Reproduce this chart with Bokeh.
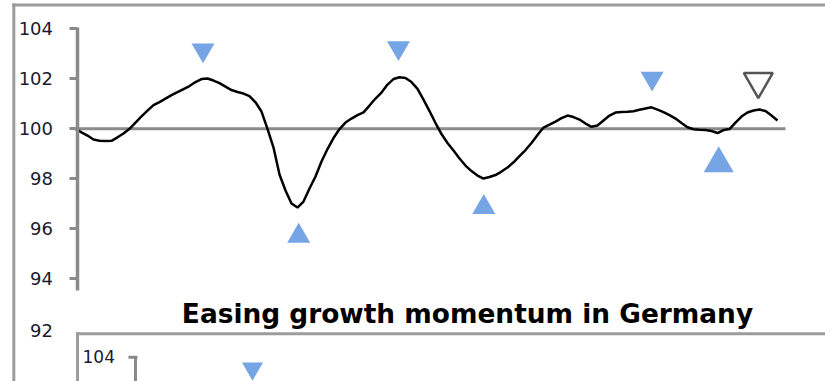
from bokeh.plotting import figure
from bokeh.models import FixedTicker, BoxAnnotation, Label
from bokeh.embed import file_html
from bokeh.resources import INLINE

# ---- data ----
values = [
    100.00, 99.86, 99.73, 99.57, 99.52, 99.51, 99.52, 99.66, 99.81, 100.00,
    100.25, 100.50, 100.73, 100.95, 101.07, 101.21, 101.35, 101.47, 101.59, 101.71,
    101.87, 101.99, 102.01, 101.93, 101.83, 101.69, 101.55, 101.47, 101.41, 101.31,
    101.06, 100.69, 100.00, 99.25, 98.17, 97.53, 97.01, 96.85, 97.09, 97.61,
    98.09, 98.69, 99.19, 99.63, 99.99, 100.25, 100.41, 100.55, 100.66, 100.93,
    101.21, 101.45, 101.77, 101.99, 102.06, 102.03, 101.87, 101.60, 101.17, 100.71,
    100.23, 99.79, 99.43, 99.13, 98.81, 98.53, 98.31, 98.13, 98.01, 98.07,
    98.15, 98.29, 98.45, 98.66, 98.91, 99.15, 99.43, 99.75, 100.05, 100.17,
    100.29, 100.43, 100.53, 100.47, 100.37, 100.21, 100.08, 100.13, 100.33, 100.53,
    100.65, 100.67, 100.68, 100.70, 100.76, 100.81, 100.86, 100.77, 100.67, 100.55,
    100.41, 100.23, 100.06, 99.98, 99.96, 99.95, 99.91, 99.83, 99.95, 99.99,
    100.25, 100.49, 100.65, 100.73, 100.77, 100.71, 100.53, 100.33,
]
months = list(range(len(values)))

peak_x = [21.25, 53.83, 96.1]
peak_y = [103.15, 103.24, 102.02]
trough_x = [37.2, 68.05, 107.2]
trough_y = [95.71, 96.86, 98.61]
trough_size = [23, 23, 30]
open_peak_x = [113.8]
open_peak_y = [101.9]

y_ticks = [94, 96, 98, 100, 102, 104]
extra_tick_label = "92"
title_text = "Easing growth momentum in Germany"

# second (cut-off) panel below
inner_tick_label = "104"
inner_peak_x = [29.5]
inner_peak_y = [90.41]

BLUE = "#76A5E6"
GRAY = "#8a8a8a"
BORDER = "#9c9c9c"
LABEL_COLOR = "#1a1a30"

p = figure(width=825, height=381, output_backend="svg", toolbar_location=None,
           x_range=(-12.5, 125), y_range=(89.892, 105.132),
           x_axis_location=None,
           min_border_left=0, min_border_right=0, min_border_top=0, min_border_bottom=0)
p.grid.visible = False
p.outline_line_color = None
p.background_fill_color = "white"
p.border_fill_color = "white"

ax = p.yaxis[0]
ax.fixed_location = 0.25
ax.ticker = FixedTicker(ticks=y_ticks)
ax.bounds = (93.53, 104.05)
ax.axis_line_color = GRAY
ax.axis_line_width = 3.5
ax.major_tick_line_color = GRAY
ax.major_tick_line_width = 3
ax.major_tick_out = 8
ax.major_tick_in = 0
ax.minor_tick_line_color = None
ax.major_label_standoff = 16
ax.major_label_text_font = "DejaVu Sans"
ax.major_label_text_font_size = "18px"
ax.major_label_text_color = LABEL_COLOR

# frame borders of the document boxes
p.add_layout(BoxAnnotation(left=-10.55, right=130, top=105.01, bottom=104.89,
                           fill_color=BORDER, fill_alpha=1, line_alpha=0))
p.add_layout(BoxAnnotation(left=-10.53, right=-10.03, top=105.01, bottom=89.0,
                           fill_color=BORDER, fill_alpha=1, line_alpha=0))
p.add_layout(BoxAnnotation(left=0.083, right=130, top=91.86, bottom=91.74,
                           fill_color=BORDER, fill_alpha=1, line_alpha=0))
p.add_layout(BoxAnnotation(left=0.083, right=0.583, top=91.86, bottom=89.0,
                           fill_color=BORDER, fill_alpha=1, line_alpha=0))

# reference line at 100
p.segment(x0=[0], x1=[118.33], y0=[100], y1=[100], line_color=GRAY, line_width=3)

# main series
p.line(months, values, line_color="black", line_width=2.5)

p.scatter(peak_x, peak_y, marker="inverted_triangle", size=23,
          fill_color=BLUE, line_color=None)
p.scatter(trough_x, trough_y, marker="triangle", size=trough_size,
          fill_color=BLUE, line_color=None)
p.scatter(open_peak_x, open_peak_y, marker="inverted_triangle", size=29,
          fill_color="white", line_color="#555555", line_width=2.5)

# extra "92" label left of the axis
p.add_layout(Label(x=-3.75, y=91.95, text=extra_tick_label, text_align="right",
                   text_baseline="middle", text_font="DejaVu Sans",
                   text_font_size="18px", text_color=LABEL_COLOR))

# title of the lower chart
p.add_layout(Label(x=65.33, y=92.61, text=title_text, text_align="center",
                   text_baseline="middle", text_font="DejaVu Sans",
                   text_font_style="bold", text_font_size="26.4px",
                   text_color="black"))

# beginning of the lower chart
p.add_layout(Label(x=1.167, y=90.912, text=inner_tick_label, text_align="left",
                   text_baseline="middle", text_font="DejaVu Sans",
                   text_font_size="17px", text_color=LABEL_COLOR))
p.segment(x0=[8.83], x1=[10.33], y0=[90.864], y1=[90.864], line_color=GRAY, line_width=3)
p.segment(x0=[10.0], x1=[10.0], y0=[90.864], y1=[89.0], line_color=GRAY, line_width=3)
p.scatter(inner_peak_x, inner_peak_y, marker="inverted_triangle", size=21,
          fill_color=BLUE, line_color=None)

open("out.html", "w").write(file_html(p, INLINE))
